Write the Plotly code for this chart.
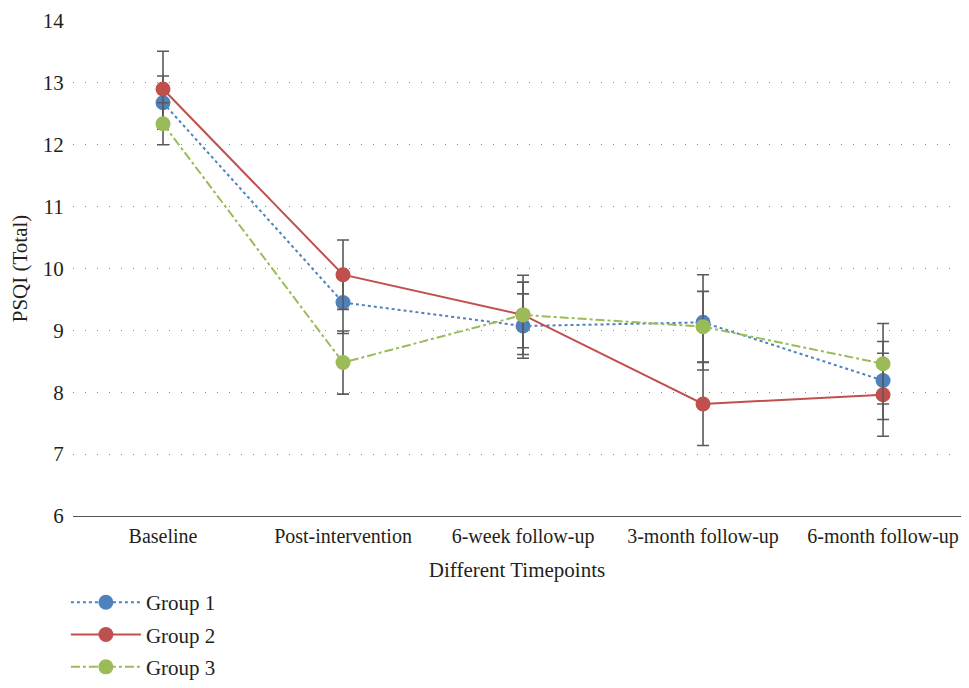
import plotly.graph_objects as go

categories = ["Baseline", "Post-intervention", "6-week follow-up", "3-month follow-up", "6-month follow-up"]
group1 = [12.68, 9.45, 9.07, 9.13, 8.19]
group1_err = [0.43, 0.50, 0.52, 0.77, 0.63]
group2 = [12.90, 9.90, 9.25, 7.81, 7.96]
group2_err = [0.61, 0.56, 0.64, 0.67, 0.67]
group3 = [12.34, 8.48, 9.25, 9.06, 8.46]
group3_err = [0.34, 0.51, 0.53, 0.57, 0.65]
y_ticks = [6, 7, 8, 9, 10, 11, 12, 13, 14]

FONT = "Liberation Serif, Times New Roman, serif"
TXT = "#231f20"
ERR_COLOR = "#5a5a5a"
FS = 21

series = [
    ("Group 1", group1, group1_err, "#4F81BD", "dot"),
    ("Group 2", group2, group2_err, "#C0504D", "solid"),
    ("Group 3", group3, group3_err, "#9BBB59", "dashdot"),
]

fig = go.Figure()
for name, vals, errs, color, dash in series:
    fig.add_trace(go.Scatter(
        x=list(range(len(categories))), y=vals, name=name, mode="lines+markers",
        legendgroup=name,
        line=dict(color=color, width=2, dash=dash),
        marker=dict(color=color, size=15),
        error_y=dict(type="data", array=errs, visible=True, color=ERR_COLOR,
                     thickness=1.6, width=6),
    ))

fig.update_layout(
    width=953, height=672,
    margin=dict(l=65, r=0, t=13, b=164, autoexpand=False),
    paper_bgcolor="white", plot_bgcolor="white",
    font=dict(family=FONT, size=FS, color=TXT),
    showlegend=True,
    legend=dict(x=-0.008, y=-0.1335, xanchor="left", yanchor="top",
                orientation="v", font=dict(family=FONT, size=FS, color=TXT),
                itemwidth=70, tracegroupgap=2, bgcolor="rgba(0,0,0,0)"),
)
fig.update_xaxes(
    tickmode="array", tickvals=list(range(len(categories))), ticktext=categories,
    range=[-0.5, 4.433], showgrid=False, zeroline=False,
    showline=True, linecolor="#555555", linewidth=1.3,
    ticks="outside", ticklen=2, tickcolor="rgba(0,0,0,0)",
    tickfont=dict(family=FONT, size=20, color=TXT),
    ticklabeloverflow="allow",
    title=dict(text="Different Timepoints", font=dict(family=FONT, size=FS, color=TXT), standoff=15),
)
fig.update_yaxes(
    range=[6, 14], tickmode="array", tickvals=y_ticks,
    showgrid=True, gridcolor="#8a8a8a", gridwidth=1.3, griddash="1px,11px",
    zeroline=False, showline=False,
    ticks="outside", ticklen=4, tickcolor="rgba(0,0,0,0)",
    tickfont=dict(family=FONT, size=FS, color=TXT),
    ticklabeloverflow="allow",
    title=dict(text="PSQI (Total)", font=dict(family=FONT, size=FS, color=TXT), standoff=9),
)

fig.write_html("out.html")
